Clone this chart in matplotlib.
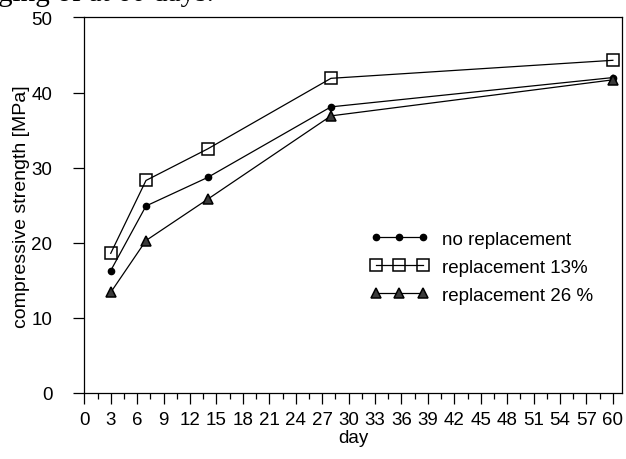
import matplotlib
matplotlib.use("Agg")
import matplotlib.pyplot as plt

# curing age [days]
days = [3, 7, 14, 28, 60]

# compressive strength [MPa]
no_repl = [16.3, 24.9, 28.7, 38.1, 42.0]
repl_13 = [18.6, 28.3, 32.5, 41.9, 44.3]
repl_26 = [13.4, 20.3, 25.8, 36.9, 41.7]

x_ticks = list(range(0, 61, 3))
y_ticks = [0, 10, 20, 30, 40, 50]

plt.rcParams["font.family"] = ["Liberation Sans", "DejaVu Sans"]

fig = plt.figure(figsize=(6.26, 4.60), dpi=100)
ax = fig.add_axes([0.1347, 0.1435, 0.8584, 0.8163])

ax.plot(days, no_repl, color="black", lw=0.9, marker="o", ms=4.5,
        mfc="black", mec="black", label="no replacement")
ax.plot(days, repl_13, color="black", lw=0.9, marker="s", ms=8,
        mfc="none", mec="black", mew=1.1, label="replacement 13%")
ax.plot(days, repl_26, color="black", lw=0.9, marker="^", ms=7,
        mfc="#3a3a3a", mec="black", mew=1.1, label="replacement 26 %")

ax.set_xlim(0, 61)
ax.set_ylim(0, 50)
ax.set_xticks(x_ticks)
ax.set_xticks([t + 1.5 for t in x_ticks[:-1]], minor=True)
ax.set_yticks(y_ticks)

ax.tick_params(axis="both", which="major", direction="out", length=8,
               width=0.9, labelsize=13.5, colors="black")
ax.tick_params(axis="x", which="major", pad=5)
ax.tick_params(axis="y", which="major", pad=15)
ax.tick_params(axis="x", which="minor", direction="out", length=4, width=0.9)
for s in ax.spines.values():
    s.set_linewidth(0.9)

ax.set_xlabel("day", fontsize=13.5, labelpad=1)
ax.set_ylabel("compressive strength [MPa]", fontsize=14, labelpad=1)

ax.legend(loc="upper left", bbox_to_anchor=(0.5, 0.478), frameon=False,
          numpoints=3, handlelength=3.15, fontsize=13.5, labelspacing=0.58,
          handletextpad=0.7)

# clipped caption fragment from the page above the figure
fig.text(-0.003, 0.998, "ging of at 60 days.", family="Liberation Serif",
         fontsize=21, va="baseline", ha="left")

fig.savefig("out.png", dpi=100)
